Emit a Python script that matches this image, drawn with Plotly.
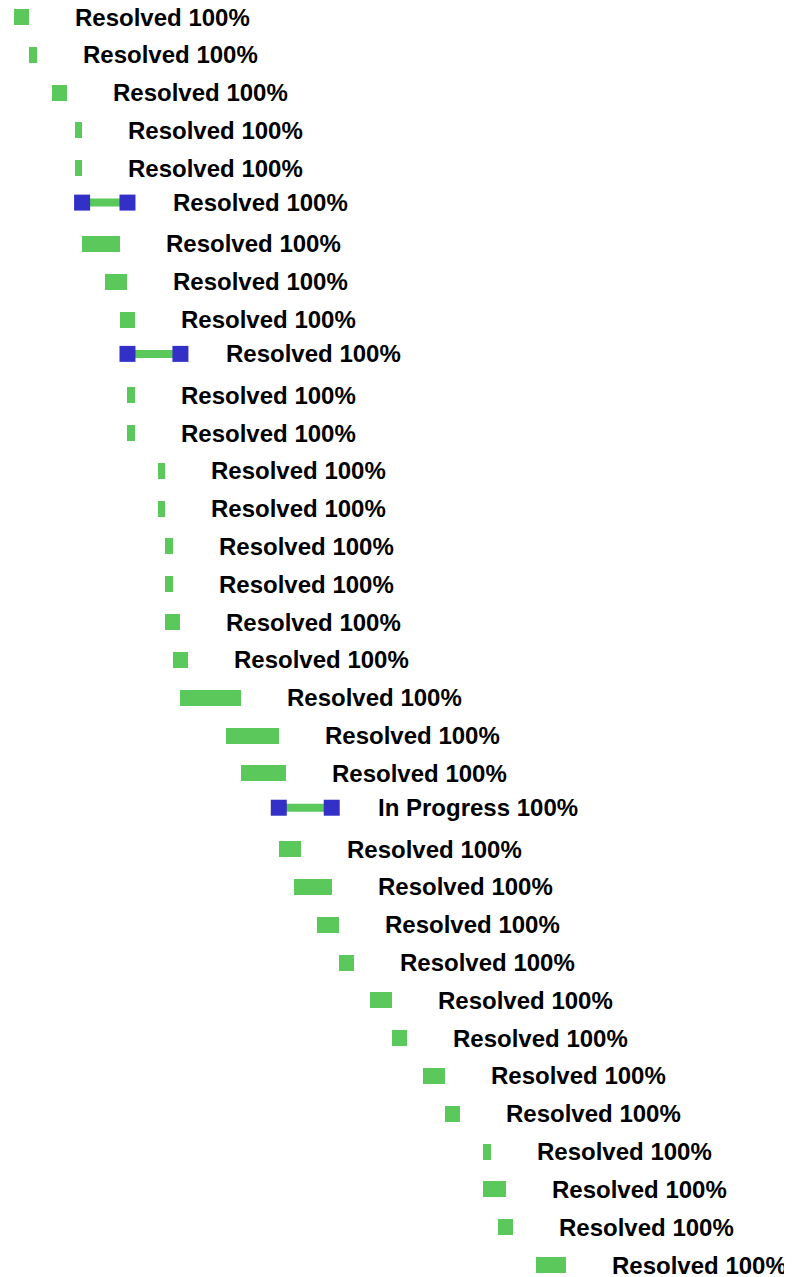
import plotly.graph_objects as go
import pandas as pd

# ---- data ----
project_start = "2024-01-01"
task_names = [f"Task {i+1}" for i in range(34)]
start_offset_days = [0, 2, 5, 8, 8, 9, 9, 12, 14, 15, 15, 15, 19, 19, 20, 20, 20,
                     21, 22, 28, 30, 35, 35, 37, 40, 43, 47, 50, 54, 57, 62, 62, 64, 69]
duration_days = [2, 1, 2, 1, 1, 6, 5, 3, 2, 7, 1, 1, 1, 1, 1, 1, 2,
                 2, 8, 7, 6, 7, 3, 5, 3, 2, 3, 2, 3, 2, 1, 3, 2, 4]
task_style = ["bar"] * 34
for i in (5, 9, 21):
    task_style[i] = "span"
statuses = ["Resolved"] * 34
statuses[21] = "In Progress"
progress_pct = [100] * 34

GREEN = "#5bc85b"
BLUE = "#3330c8"

base = pd.Timestamp(project_start)
starts = [base + pd.Timedelta(days=d) for d in start_offset_days]
ends = [s + pd.Timedelta(days=d) for s, d in zip(starts, duration_days)]

W, H = 784, 1269
px_per_day = 7.565
left_px = 6
row_px = 37.82
first_row_px = 9
span_lift_px = 3.5

fig = go.Figure()

bar_idx = [i for i in range(34) if task_style[i] == "bar"]
fig.add_trace(go.Bar(
    orientation="h",
    y=[task_names[i] for i in bar_idx],
    base=[starts[i] for i in bar_idx],
    x=[duration_days[i] * 86400000 for i in bar_idx],
    width=0.423,
    marker=dict(color=GREEN, line=dict(width=0)),
    hoverinfo="skip",
    showlegend=False,
))

for i in range(34):
    if task_style[i] == "span":
        fig.add_trace(go.Scatter(
            x=[starts[i], ends[i]],
            y=[task_names[i], task_names[i]],
            yaxis="y2",
            mode="lines+markers",
            line=dict(color=GREEN, width=8),
            marker=dict(symbol="square", size=16, color=BLUE, line=dict(width=0)),
            hoverinfo="skip",
            showlegend=False,
        ))

for i in range(34):
    fig.add_annotation(
        x=ends[i], y=task_names[i],
        text=f"<b>{statuses[i]} {progress_pct[i]}%</b>",
        showarrow=False, xanchor="left", yanchor="middle",
        xshift=44, yshift=span_lift_px if task_style[i] == "span" else 0,
        font=dict(family="Liberation Sans, Arial, Helvetica, sans-serif", size=24, color="#000000"),
    )

x0 = base - pd.Timedelta(days=left_px / px_per_day)
x1 = base + pd.Timedelta(days=(W - left_px) / px_per_day)
y_range = [(H - first_row_px) / row_px, -first_row_px / row_px]
lift = span_lift_px / row_px

fig.update_layout(
    width=W, height=H,
    margin=dict(l=0, r=0, t=0, b=0),
    paper_bgcolor="white", plot_bgcolor="white",
    bargap=0, barmode="overlay",
    showlegend=False,
    xaxis=dict(type="date", range=[x0, x1], visible=False, showgrid=False, zeroline=False),
    yaxis=dict(type="category", categoryorder="array", categoryarray=task_names,
               range=y_range, visible=False, showgrid=False, zeroline=False),
    yaxis2=dict(type="category", categoryorder="array", categoryarray=task_names,
                range=[y_range[0] + lift, y_range[1] + lift], overlaying="y",
                visible=False, showgrid=False, zeroline=False),
)

fig.write_html("out.html")
